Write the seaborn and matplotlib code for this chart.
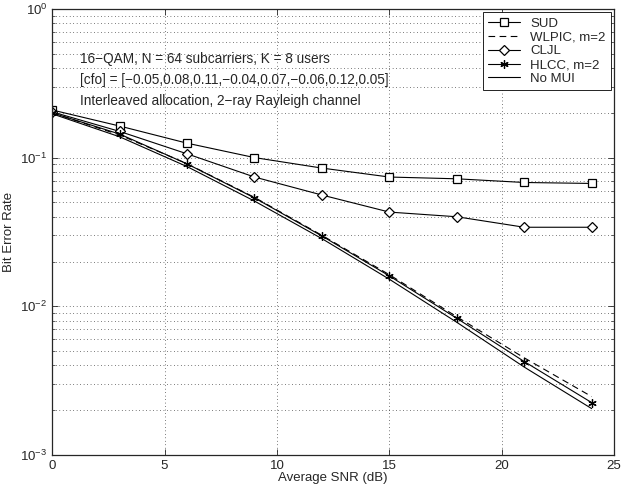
import numpy as np
import pandas as pd
import matplotlib
matplotlib.use("Agg")
import matplotlib.pyplot as plt
import seaborn as sns

snr = [0, 3, 6, 9, 12, 15, 18, 21, 24]
sud = [0.209, 0.163, 0.125, 0.100, 0.085, 0.074, 0.072, 0.068, 0.067]
wlpic = [0.200, 0.142, 0.091, 0.054, 0.030, 0.0163, 0.0085, 0.0045, 0.00247]
cljl = [0.203, 0.150, 0.106, 0.074, 0.056, 0.043, 0.040, 0.034, 0.034]
hlcc = [0.200, 0.144, 0.0907, 0.0536, 0.0297, 0.0160, 0.0083, 0.00425, 0.00225]
no_mui = [0.197, 0.138, 0.087, 0.051, 0.0285, 0.0152, 0.0078, 0.0039, 0.00205]

names = ["SUD", "WLPIC, m=2", "CLJL", "HLCC, m=2", "No MUI"]
series = [sud, wlpic, cljl, hlcc, no_mui]
notes = ["16\u2212QAM, N = 64 subcarriers, K = 8 users",
         "[cfo] = [\u22120.05,0.08,0.11,\u22120.04,0.07,\u22120.06,0.12,0.05]",
         "Interleaved allocation, 2\u2212ray Rayleigh channel"]

df = pd.concat([pd.DataFrame({"snr": snr, "ber": v, "scheme": n})
                for n, v in zip(names, series)])

sns.set_style("ticks")
plt.rcParams["font.family"] = ["Liberation Sans", "DejaVu Sans"]
plt.rcParams["mathtext.fontset"] = "custom"
plt.rcParams["mathtext.rm"] = "Liberation Sans"
plt.rcParams["mathtext.it"] = "Liberation Sans:italic"

fig = plt.figure(figsize=(6.21, 4.94), dpi=100)
ax = fig.add_axes([0.084, 0.079, 0.905, 0.903])

styles = {
    "SUD": dict(marker="s", ms=5.5, linestyle="-"),
    "WLPIC, m=2": dict(marker=None, ms=0, linestyle=(0, (6, 4))),
    "CLJL": dict(marker="D", ms=5.5, linestyle="-"),
    "HLCC, m=2": dict(marker=(6, 2, 0), ms=6, linestyle="-"),
    "No MUI": dict(marker=None, ms=0, linestyle="-"),
}
for n in names:
    st = styles[n]
    sns.lineplot(data=df[df.scheme == n], x="snr", y="ber", ax=ax,
                 color="black", linewidth=0.8, linestyle=st["linestyle"],
                 marker=st["marker"], markersize=st["ms"],
                 markerfacecolor="white" if st["marker"] in ("s", "D") else "black",
                 markeredgecolor="black", markeredgewidth=0.9, label=n)

ax.set_yscale("log")
ax.set_xlim(0, 25)
ax.set_ylim(1e-3, 1)
ax.set_xticks([0, 5, 10, 15, 20, 25])
ax.set_yticks([1e-3, 1e-2, 1e-1, 1])
ax.set_xlabel("Average SNR (dB)", fontsize=9.5, labelpad=0)
ax.set_ylabel("Bit Error Rate", fontsize=9.5, labelpad=4)
ax.tick_params(which="both", direction="in", top=True, right=True, labelsize=9.5)
ax.tick_params(which="major", length=4, width=0.6)
ax.tick_params(which="minor", length=2, width=0.5)
ax.grid(True, which="major", color="black", linestyle=(0, (1, 4)), linewidth=0.5)
ax.grid(True, which="minor", axis="y", color="black", linestyle=(0, (1, 4)), linewidth=0.5)
for s in ax.spines.values():
    s.set_linewidth(0.9)

for i, t in enumerate(notes):
    ax.text(1.25, [0.46, 0.333, 0.24][i], t, fontsize=9.8, va="center")

leg = ax.legend(loc="upper right", fontsize=9.5, frameon=True, fancybox=False,
                edgecolor="black", framealpha=1, handlelength=2.4,
                borderaxespad=0.25, labelspacing=0.12, borderpad=0.4,
                handletextpad=0.8)
leg.get_frame().set_linewidth(0.6)

fig.savefig("out.png", dpi=100)
